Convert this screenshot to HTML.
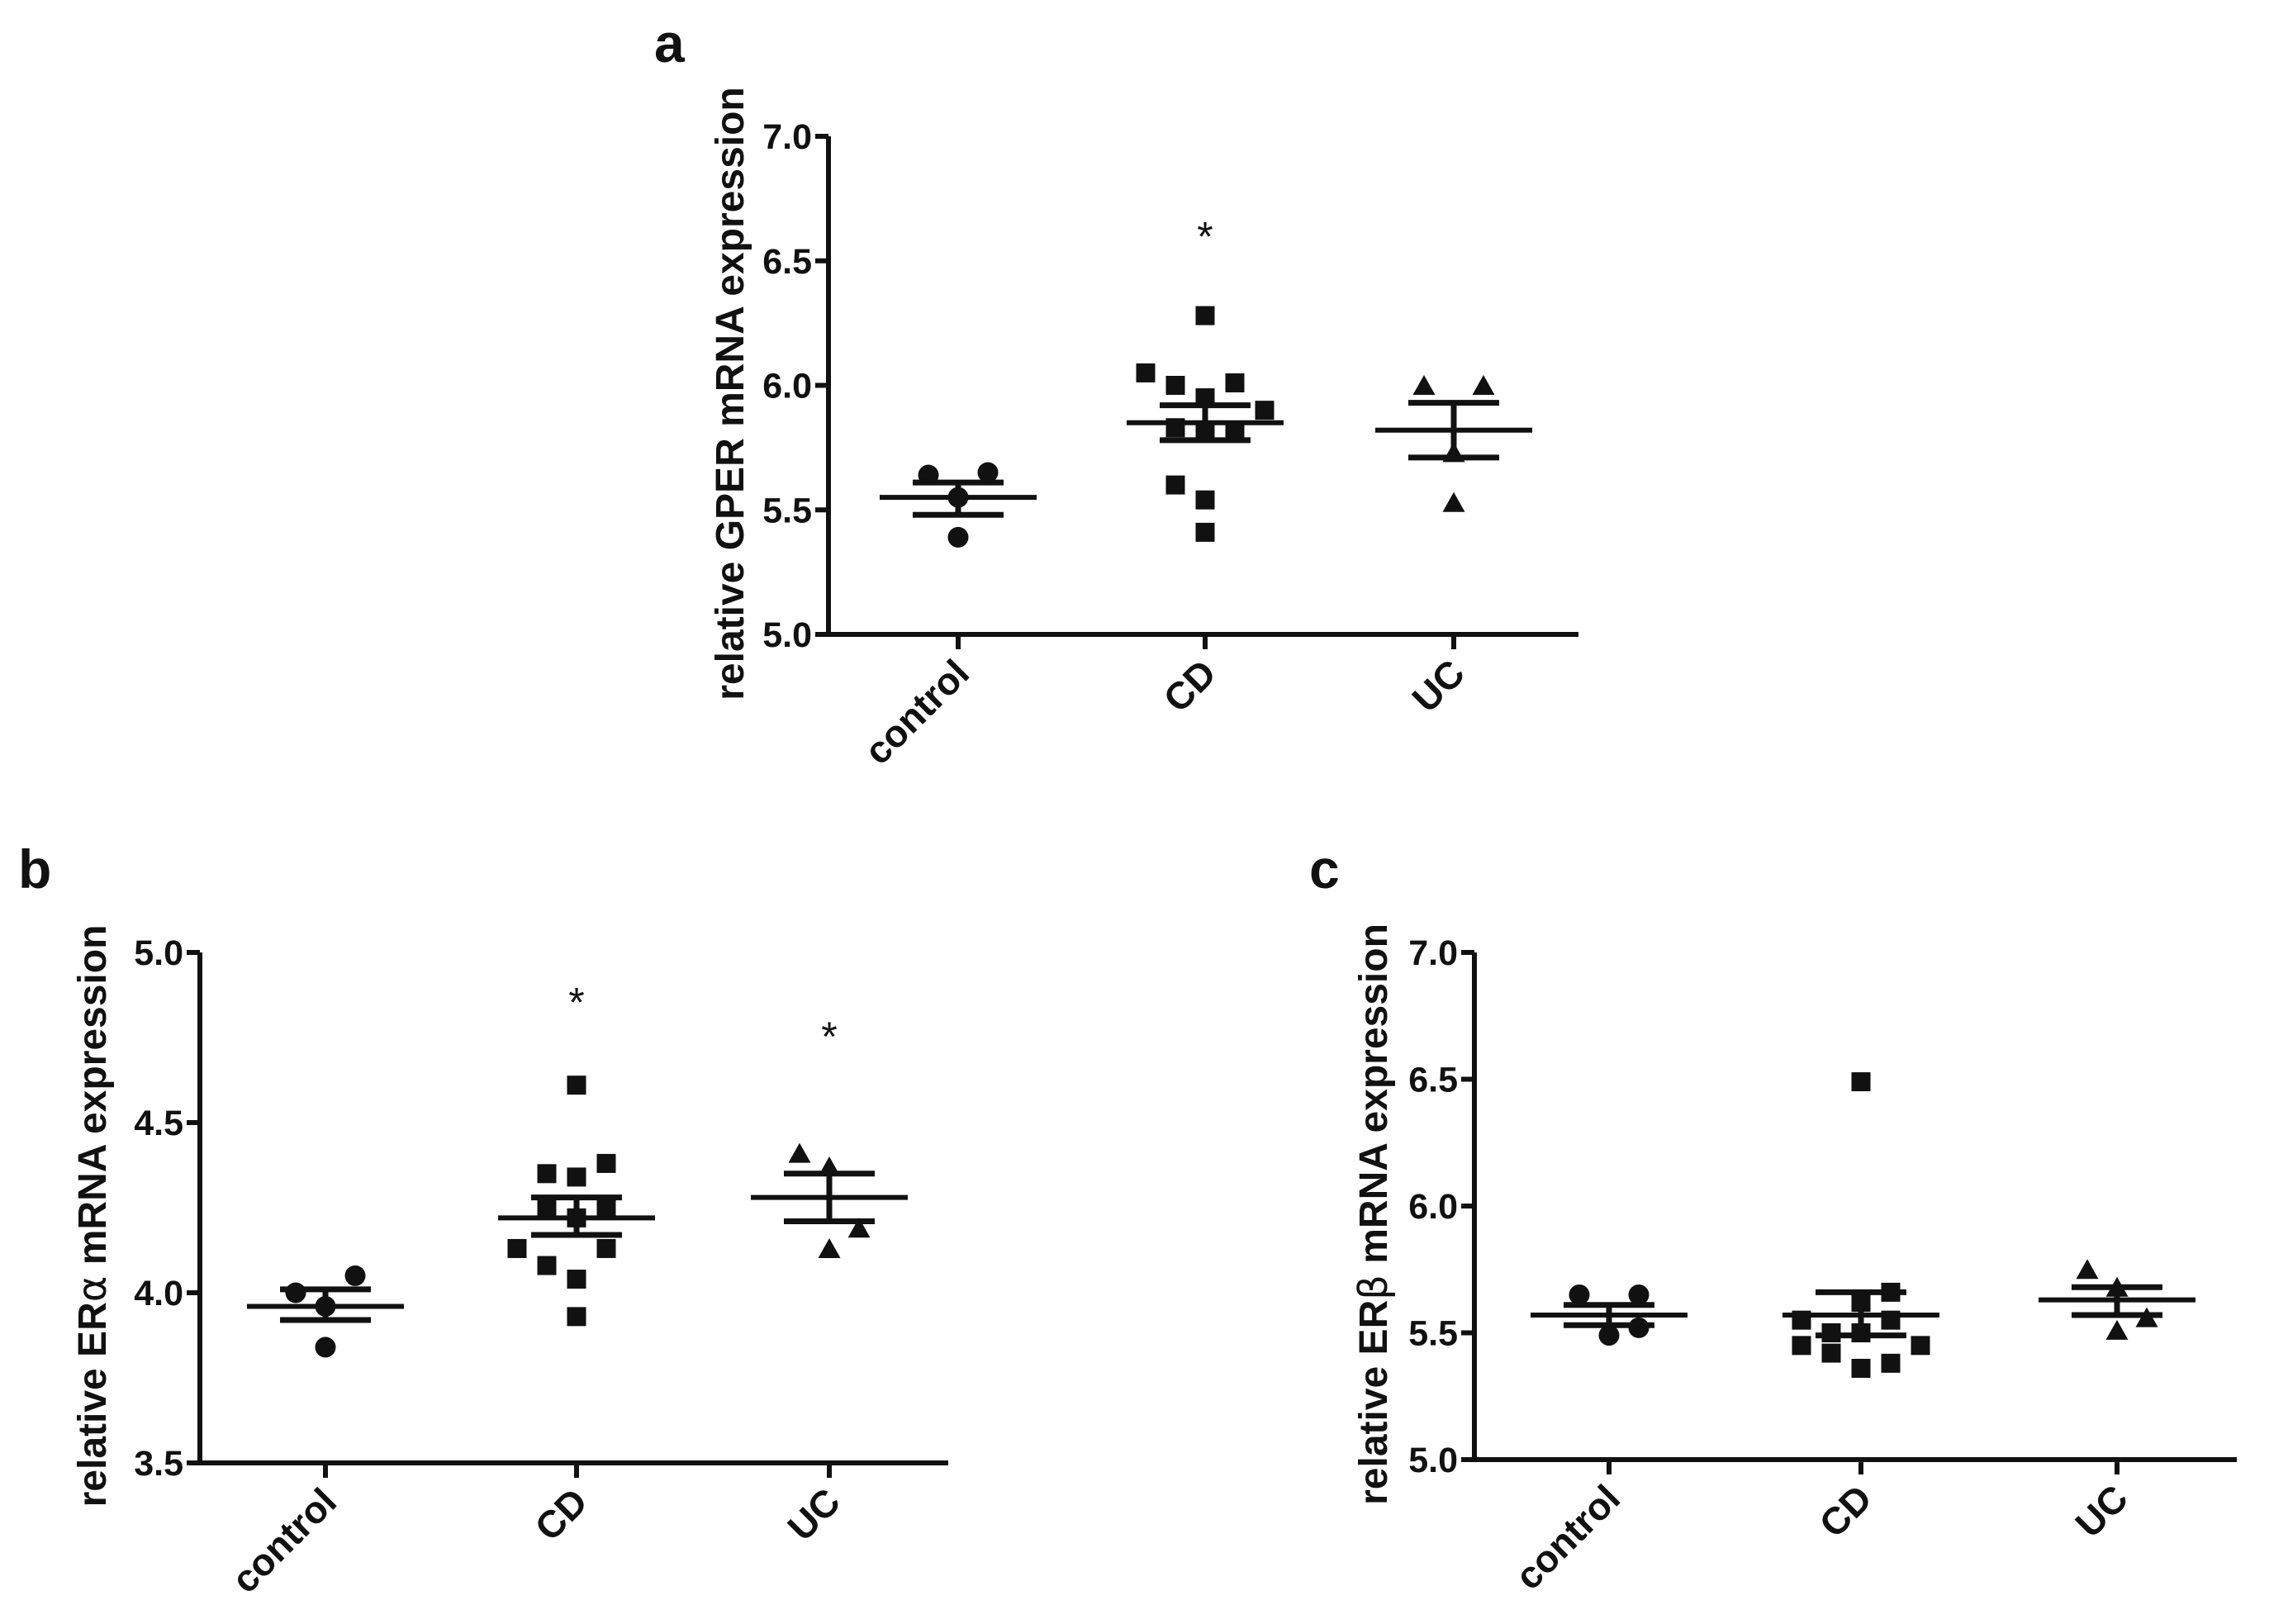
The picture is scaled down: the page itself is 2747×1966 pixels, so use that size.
<!DOCTYPE html>
<html><head><meta charset="utf-8"><style>
body{margin:0;background:#fff;}
svg{display:block;font-family:"Liberation Sans",Arial,sans-serif;font-weight:bold;}
</style></head><body>
<svg id="fig" width="2747" height="1966" viewBox="0 0 2747 1966" xmlns="http://www.w3.org/2000/svg"></svg>
<script>
const categories = ["control","CD","UC"];
// Panel a: GPER
const aControl = [5.64,5.65,5.55,5.39];
const aCD = [6.28,6.05,6.0,6.01,5.95,5.9,5.83,5.82,5.82,5.6,5.54,5.41];
const aUC = [6.0,6.0,5.73,5.53];
const aMeans = [5.55,5.85,5.82];
const aSemLo = [5.48,5.78,5.71];
const aSemHi = [5.61,5.92,5.93];
const aTicks = ["5.0","5.5","6.0","6.5","7.0"];
const aStars = [null,6.62,null];
// Panel b: ERalpha
const bControl = [4.0,4.05,3.96,3.84];
const bCD = [4.61,4.38,4.35,4.34,4.25,4.25,4.22,4.13,4.13,4.08,4.04,3.93];
const bUC = [4.41,4.37,4.19,4.13];
const bMeans = [3.96,4.22,4.28];
const bSemLo = [3.92,4.17,4.21];
const bSemHi = [4.01,4.28,4.35];
const bTicks = ["3.5","4.0","4.5","5.0"];
const bStars = [null,4.87,4.77];
// Panel c: ERbeta
const cControl = [5.65,5.65,5.49,5.52];
const cCD = [6.49,5.66,5.62,5.55,5.55,5.5,5.5,5.45,5.45,5.42,5.38,5.36];
const cUC = [5.75,5.68,5.56,5.51];
const cMeans = [5.57,5.57,5.63];
const cSemLo = [5.53,5.49,5.57];
const cSemHi = [5.61,5.66,5.68];
const cTicks = ["5.0","5.5","6.0","6.5","7.0"];
const cStars = [null,null,null];

// jitter (layout, in marker widths)
const jA = [[-1,1,0,0],[0,-2,-1,1,0,2,-1,0,1,-1,0,0],[-1,1,0,0]];
const jB = [[-1,1,0,0],[0,1,-1,0,-1,1,0,-2,1,-1,0,0],[-1,0,1,0]];
const jC = [[-1,1,0,1],[0,1,0,-2,1,-1,0,-2,2,-1,1,0],[-1,0,1,0]];

const NS="http://www.w3.org/2000/svg";
const svg=document.getElementById('fig');
function mk(tag,attrs,parent){const e=document.createElementNS(NS,tag);for(const k in attrs)e.setAttribute(k,attrs[k]);(parent||svg).appendChild(e);return e;}

function panel(cfg){
  const g=mk('g',{});
  
  
  const {x0,x1,yTop,yBot,vMin,vMax,cats}=cfg;
  const Y=v=>yBot-(v-vMin)/(vMax-vMin)*(yBot-yTop);
  const ya=mk('line',{x1:x0,y1:yTop,x2:x0,y2:yBot,stroke:'#111','stroke-width':6},g);
  
  
  const xa=mk('line',{x1:x0-14,y1:yBot,x2:x1,y2:yBot,stroke:'#111','stroke-width':6},g);
  
  
  cfg.ticks.forEach(t=>{
    const v=parseFloat(t),y=Y(v);
    mk('line',{x1:x0-16,y1:y,x2:x0,y2:y,stroke:'#111','stroke-width':6},g);
    const tx=mk('text',{x:x0-20,y:y+15,'text-anchor':'end','font-size':43,fill:'#111'},g);
    tx.textContent=t;
    
    
  });
  categories.forEach((c,i)=>{
    const cx=cats[i];
    mk('line',{x1:cx,y1:yBot,x2:cx,y2:yBot+18,stroke:'#111','stroke-width':6},g);
    const tx=mk('text',{transform:`translate(${cx+16},${yBot+50}) rotate(-45)`,'text-anchor':'end','font-size':46,fill:'#111'},g);
    tx.textContent=c;
    
    
  });
  const yt=mk('text',{transform:`translate(${cfg.titleX},${(yTop+yBot)/2+10}) rotate(-90)`,'text-anchor':'middle','font-size':48,fill:'#111'},g);
  yt.innerHTML=cfg.title;
  
  
  const lb=mk('text',{x:cfg.labX,y:cfg.labY,'font-size':66,fill:'#111'},g);
  lb.textContent=cfg.letter;
  
  
  const s=23, step=36;
  cfg.series.forEach((vals,i)=>{
    vals.forEach((v,k)=>{
      const cx=cats[i]+cfg.jit[i][k]*step, cy=Y(v);
      let m;
      if(i===0) m=mk('circle',{cx:cx,cy:cy,r:s/2+1,fill:'#111'},g);
      else if(i===1) m=mk('rect',{x:cx-s/2,y:cy-s/2,width:s,height:s,fill:'#111'},g);
      else m=mk('polygon',{points:`${cx},${cy-s/2-1} ${cx+s/2+2},${cy+s/2} ${cx-s/2-2},${cy+s/2}`,fill:'#111'},g);
      
      
    });
    const cx=cats[i];
    const ml=mk('line',{x1:cx-95,y1:Y(cfg.means[i]),x2:cx+95,y2:Y(cfg.means[i]),stroke:'#111','stroke-width':6},g);
    
    
    const eb=mk('path',{d:`M${cx},${Y(cfg.lo[i])}V${Y(cfg.hi[i])}M${cx-55},${Y(cfg.lo[i])}H${cx+55}M${cx-55},${Y(cfg.hi[i])}H${cx+55}`,stroke:'#111','stroke-width':7,fill:'none'},g);
    
    
    if(cfg.stars[i]!==null){
      const st=mk('text',{x:cx,y:Y(cfg.stars[i])+24,'text-anchor':'middle','font-size':50,'font-weight':'normal',fill:'#111'},g);
      st.textContent='*';
      
      
    }
  });
}
panel({name:'panel-a-gper',x0:1003,x1:1911,yTop:165,yBot:768,vMin:5,vMax:7,cats:[1160,1459,1760],ticks:aTicks,
  series:[aControl,aCD,aUC],jit:jA,means:aMeans,lo:aSemLo,hi:aSemHi,stars:aStars,
  title:'relative GPER mRNA expression',titleX:900,letter:'a',labX:792,labY:75});
panel({name:'panel-b-eralpha',x0:242,x1:1148,yTop:1153,yBot:1771,vMin:3.5,vMax:5,cats:[394,698,1004],ticks:bTicks,
  series:[bControl,bCD,bUC],jit:jB,means:bMeans,lo:bSemLo,hi:bSemHi,stars:bStars,
  title:'relative ER<tspan font-family="DejaVu Sans" font-weight="normal">α</tspan> mRNA expression',titleX:128,letter:'b',labX:22,labY:1075});
panel({name:'panel-c-erbeta',x0:1785,x1:2708,yTop:1153,yBot:1767,vMin:5,vMax:7,cats:[1948,2253,2563],ticks:cTicks,
  series:[cControl,cCD,cUC],jit:jC,means:cMeans,lo:cSemLo,hi:cSemHi,stars:cStars,
  title:'relative ER<tspan font-family="DejaVu Sans" font-weight="normal">β</tspan> mRNA expression',titleX:1679,letter:'c',labX:1585,labY:1075});
</script>
</body></html>
